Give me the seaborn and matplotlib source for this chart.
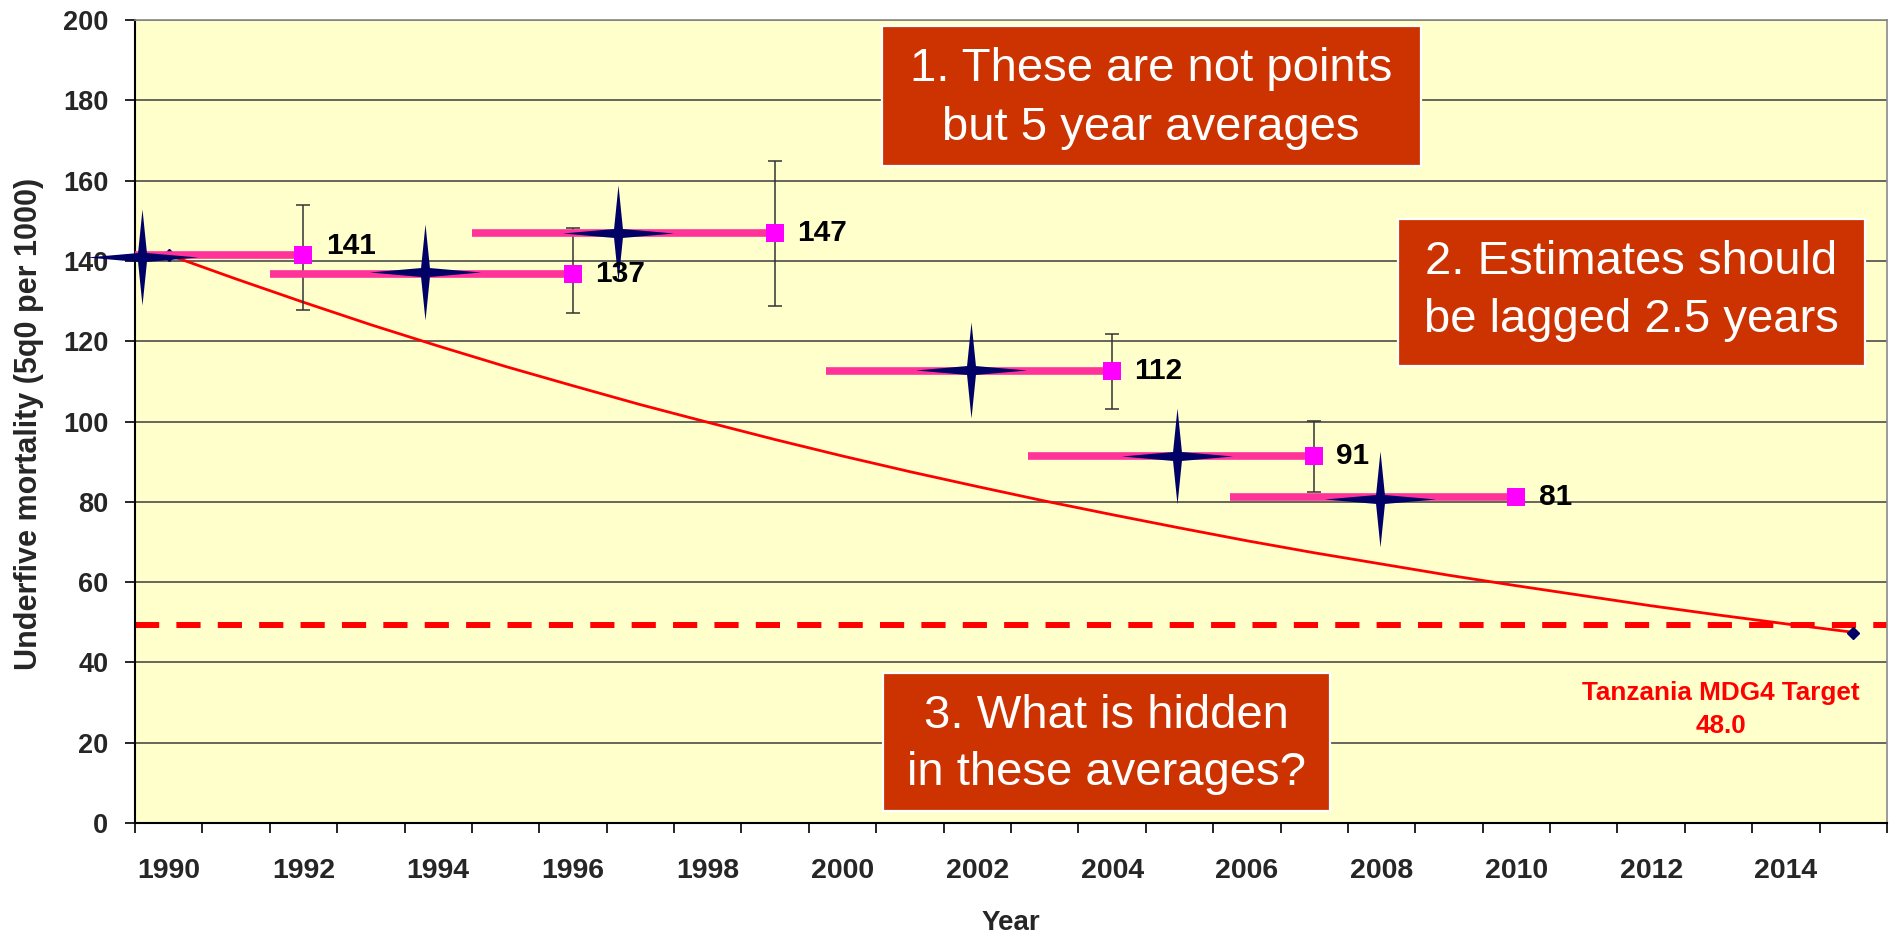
import numpy as np
import matplotlib
matplotlib.use("Agg")
import matplotlib.pyplot as plt
from matplotlib.path import Path
from matplotlib.markers import MarkerStyle
from matplotlib.patches import Rectangle
import seaborn as sns

# ---------------- data ----------------
traj_years = list(range(1990, 2016))
traj_values = [141.5, 135.5, 129.7, 124.1, 118.8, 113.7, 108.9, 104.2, 99.8, 95.5,
               91.4, 87.5, 83.8, 80.2, 76.8, 73.5, 70.3, 67.3, 64.5, 61.7,
               59.1, 56.6, 54.1, 51.8, 49.6, 47.5]
endpoint_years = [1990, 2015]
endpoint_values = [141.5, 47.4]

survey_end_year = [1992, 1996, 1999, 2004, 2007, 2010]
survey_start_year = [1987.5, 1991.5, 1994.5, 1999.75, 2002.75, 2005.75]
survey_avg = [141.4, 136.8, 147.0, 112.5, 91.3, 81.1]
survey_labels = ["141", "137", "147", "112", "91", "81"]
ci_low = [127.8, 127.1, 128.8, 103.0, 82.4, np.nan]
ci_high = [154.0, 148.2, 164.8, 121.7, 100.2, np.nan]

star_year = [1989.6, 1993.8, 1996.67, 2001.9, 2004.97, 2007.98]
star_value = [141.0, 137.3, 147.0, 112.8, 91.5, 80.7]

target_value = 49.4
target_text = ["Tanzania MDG4 Target", "48.0"]

x_tick_years = list(range(1990, 2015, 2))
x_tick_labels = [str(y) for y in x_tick_years]
y_ticks = list(range(0, 201, 20))

callouts = [
    ["1. These are not points", "but 5 year averages"],
    ["2. Estimates should", "be lagged 2.5 years"],
    ["3. What is hidden", "in these averages?"],
]

# ---------------- style ----------------
sns.set_style("white")
plt.rcParams["font.family"] = ["Liberation Sans", "DejaVu Sans"]

W, H = 1889, 934
fig = plt.figure(figsize=(W / 100, H / 100), dpi=100)
L, R, T, B = 135, 1887, 20, 823
ax = fig.add_axes([L / W, 1 - B / H, (R - L) / W, (B - T) / H])
ax.set_facecolor("#FFFFCC")
ax.set_xlim(1989.5, 2015.5)
ax.set_ylim(0, 200)

# grid
ax.set_yticks(y_ticks)
ax.yaxis.grid(True, color="#3c3c3c", lw=1.1)
ax.xaxis.grid(False)
ax.set_axisbelow(True)

# trajectory line
sns.lineplot(x=traj_years, y=traj_values, color="#FF0000", lw=2.0, ax=ax, zorder=2)
ax.plot(endpoint_years, endpoint_values, ls="none", marker="D", ms=6,
        color="#000066", zorder=3)

# target dashed line
ax.axhline(target_value, color="#FF0000", lw=4.3, dashes=(4.05, 2.88),
           dash_capstyle="butt", zorder=2)

# error bars
avg = np.array(survey_avg)
lo = np.array(ci_low)
hi = np.array(ci_high)
ax.errorbar(survey_end_year, avg, yerr=[avg - lo, hi - avg], fmt="none",
            ecolor="#333333", elinewidth=1.1, capsize=5, capthick=1.1, zorder=3)

# 5-year averaging bars
ax.hlines(survey_avg, survey_start_year, survey_end_year, color="#FF3399",
          lw=5.5, zorder=4)

# squares
sns.scatterplot(x=survey_end_year, y=survey_avg, marker="s", s=13.5 ** 2,
                color="#FF00FF", linewidth=0, ax=ax, zorder=5)

# stars
a = 0.08
h = 0.865
star_verts = [(1, 0), (a, a), (0, h), (-a, a), (-1, 0), (-a, -a), (0, -h), (a, -a), (1, 0)]
star_codes = [Path.MOVETO] + [Path.LINETO] * 7 + [Path.CLOSEPOLY]
star_marker = MarkerStyle(Path(star_verts, star_codes))
sns.scatterplot(x=star_year, y=star_value, marker=star_marker, s=80 ** 2,
                color="#000066", linewidth=0, ax=ax, zorder=6, clip_on=False)

# value labels
for i, (x, y, lab) in enumerate(zip(survey_end_year, survey_avg, survey_labels)):
    dy = 7 if i == 0 else 0
    ax.annotate(lab, (x, y), xytext=(16, dy), textcoords="offset points",
                ha="left", va="center", fontsize=21.5, fontweight="bold",
                color="black", zorder=7)

# target text
ax.text(2013.03, 30.6, target_text[0], ha="center", va="baseline",
        color="#FF0000", fontsize=18.8, fontweight="bold", zorder=7)
ax.text(2013.03, 22.4, target_text[1], ha="center", va="baseline",
        color="#FF0000", fontsize=18.8, fontweight="bold", zorder=7)

# callout boxes (x0, y0, w, h in data units) and text baselines
box_geo = [
    (2000.58, 163.6, 8.00, 34.9, 2004.58, (184.7, 170.1)),
    (2008.24, 113.8, 6.93, 36.6, 2011.70, (136.7, 122.3)),
    (2000.60, 3.0, 6.63, 34.4, 2003.91, (23.7, 9.5)),
]
for lines, (x0, y0, bw, bh, xc, ys) in zip(callouts, box_geo):
    ax.add_patch(Rectangle((x0, y0), bw, bh, facecolor="#CC3300",
                           edgecolor="white", lw=1.6, zorder=10, clip_on=False))
    for line, yb in zip(lines, ys):
        ax.text(xc, yb, line, ha="center", va="baseline", color="white",
                fontsize=34, zorder=11)

# axes / ticks
ax.set_xticks(x_tick_years)
ax.set_xticklabels(x_tick_labels, fontsize=20.5, fontweight="bold")
ax.set_xticks(np.arange(1989.5, 2015.6, 1.0), minor=True)
ax.set_yticklabels([str(v) for v in y_ticks], fontsize=19.5, fontweight="bold")
ax.tick_params(axis="x", which="major", bottom=True, length=0, pad=25)
ax.tick_params(axis="x", which="minor", bottom=True, length=7.2, width=1.2,
               color="black", direction="out")
ax.tick_params(axis="y", which="major", left=True, length=7.2, width=1.2,
               color="black", direction="out", pad=12)

for side in ["left", "bottom"]:
    ax.spines[side].set_color("black")
    ax.spines[side].set_linewidth(1.5)
for side in ["top", "right"]:
    ax.spines[side].set_color("#8a8a8a")
    ax.spines[side].set_linewidth(1.2)
    ax.spines[side].set_visible(True)

ax.set_xlabel("Year", fontsize=20, fontweight="bold")
ax.xaxis.set_label_coords(0.5, (B - 930) / (B - T))
ax.xaxis.label.set_va("baseline")
ax.set_ylabel("Underfive mortality (5q0 per 1000)", fontsize=22, fontweight="bold")
ax.yaxis.set_label_coords((28.6 - L) / (R - L), (B - 424) / (B - T))
ax.yaxis.label.set_va("center")

fig.savefig("out.png", dpi=100)
